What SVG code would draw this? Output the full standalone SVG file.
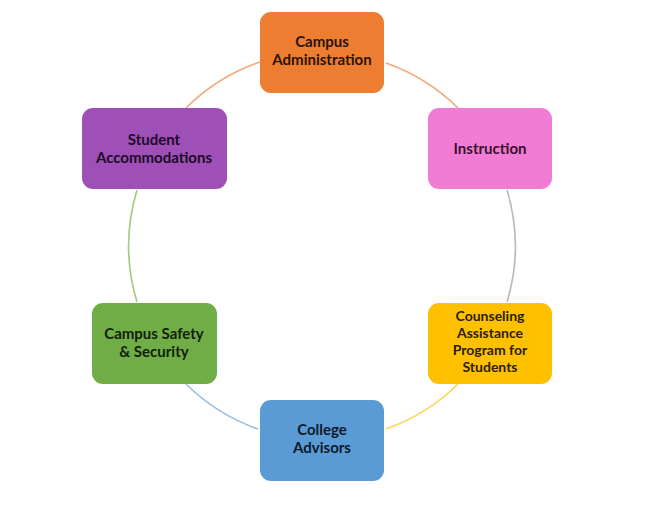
<svg xmlns="http://www.w3.org/2000/svg" width="662" height="508" viewBox="0 0 662 508">
<style>
.box{stroke:none}
.t{font-family:Lato,"Open Sans","Liberation Sans",sans-serif;font-weight:bold;font-size:15px;text-anchor:middle}
.s{font-size:14px}
.arc{fill:none;stroke-width:1.7}
</style>
<rect width="662" height="508" fill="#ffffff"/>
<g id="connectors">
<path class="arc" stroke="#F2AA7A" d="M 186,108 A 194 194 0 0 1 260,62"/>
<path class="arc" stroke="#F2AA7A" d="M 386,63 A 194 194 0 0 1 458,108"/>
<path class="arc" stroke="#BBBBBB" d="M 507,190 A 194 194 0 0 1 507,302"/>
<path class="arc" stroke="#FFD45A" d="M 458,384 A 194 194 0 0 1 386,429"/>
<path class="arc" stroke="#97BFE3" d="M 258,429 A 194 194 0 0 1 186,384"/>
<path class="arc" stroke="#A2CD85" d="M 137,302 A 194 194 0 0 1 137,190"/>
</g>
<g id="campus-administration">
<rect class="box" x="260" y="12" width="124" height="81" rx="11" fill="#ED7D31"/>
<text class="t" x="322" y="47" fill="#2a1408">Campus</text>
<text class="t" x="322" y="65" fill="#2a1408">Administration</text>
</g>
<g id="instruction">
<rect class="box" x="428" y="108" width="124" height="81" rx="11" fill="#F07CD3"/>
<text class="t" x="490" y="154" fill="#3a1030">Instruction</text>
</g>
<g id="counseling">
<rect class="box" x="428" y="303" width="124" height="81" rx="11" fill="#FFC000"/>
<text class="t s" x="490" y="321" fill="#2a2000">Counseling</text>
<text class="t s" x="490" y="338" fill="#2a2000">Assistance</text>
<text class="t s" x="490" y="355" fill="#2a2000">Program for</text>
<text class="t s" x="490" y="372" fill="#2a2000">Students</text>
</g>
<g id="college-advisors">
<rect class="box" x="260" y="400" width="124" height="81" rx="11" fill="#5B9BD5"/>
<text class="t" x="322" y="435" fill="#0c1a2a">College</text>
<text class="t" x="322" y="453" fill="#0c1a2a">Advisors</text>
</g>
<g id="campus-safety">
<rect class="box" x="92" y="303" width="125" height="81" rx="11" fill="#70AD47"/>
<text class="t" x="154" y="339" fill="#10200a">Campus Safety</text>
<text class="t" x="154" y="357" fill="#10200a">&amp; Security</text>
</g>
<g id="student-accommodations">
<rect class="box" x="82" y="108" width="145" height="81" rx="11" fill="#9E50B6"/>
<text class="t" x="154" y="145" fill="#200a28">Student</text>
<text class="t" x="154" y="163" fill="#200a28">Accommodations</text>
</g>
</svg>
